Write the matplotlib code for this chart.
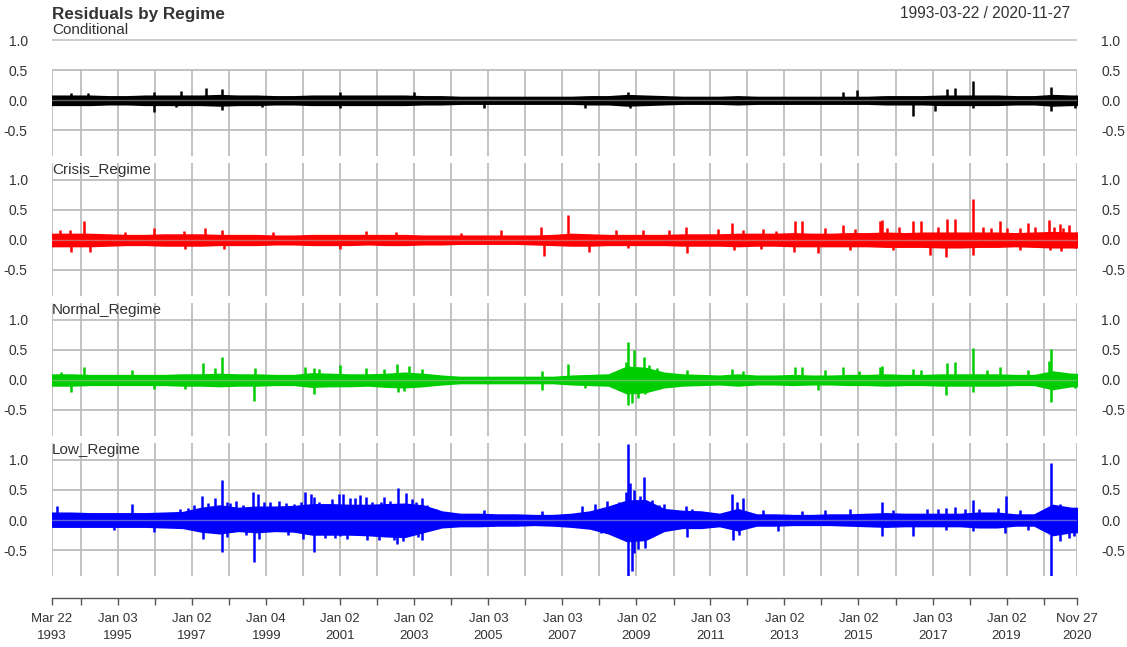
import numpy as np
import pandas as pd
import matplotlib
matplotlib.use("Agg")
import matplotlib.pyplot as plt

plt.rcParams['font.family'] = ['Liberation Sans', 'DejaVu Sans']

start = pd.Timestamp("1993-03-22")
end = pd.Timestamp("2020-11-27")

regimes = ["Conditional", "Crisis_Regime", "Normal_Regime", "Low_Regime"]
colors = ["#000000", "#FF0000", "#00CD00", "#0000FF"]

# half-year envelope of the residuals (Apr / Oct of each year, 1993..2020)
band_dates = pd.date_range("1993-04-01", periods=56, freq="6MS")

cond_hi = [.07, .07, .07, .06, .06, .07, .07, .07, .07, .08, .07, .07, .06, .06,
           .07, .07, .07, .07, .07, .07, .06, .06, .05, .05, .05, .05, .05, .05,
           .05, .06, .06, .08, .07, .06, .05, .05, .05, .06, .05, .05, .05, .05,
           .05, .05, .05, .06, .06, .06, .07, .07, .07, .07, .06, .06, .08, .07]
cond_lo = [-.08, -.08, -.08, -.07, -.07, -.08, -.08, -.08, -.08, -.09, -.08, -.08, -.07, -.07,
           -.08, -.08, -.08, -.08, -.08, -.08, -.07, -.07, -.06, -.06, -.06, -.06, -.06, -.06,
           -.06, -.07, -.07, -.09, -.08, -.07, -.06, -.06, -.06, -.07, -.06, -.06, -.06, -.06,
           -.06, -.06, -.06, -.07, -.07, -.07, -.08, -.08, -.08, -.08, -.07, -.07, -.09, -.08]

crisis_hi = [.10, .10, .10, .09, .08, .08, .09, .09, .09, .08, .08, .08, .07, .07,
             .08, .08, .08, .08, .08, .08, .07, .07, .07, .07, .07, .07, .07, .08,
             .10, .09, .08, .08, .08, .08, .09, .09, .09, .10, .10, .10, .11, .10,
             .10, .11, .11, .12, .11, .12, .12, .12, .12, .12, .11, .12, .13, .12]
crisis_lo = [-.10, -.10, -.10, -.09, -.08, -.08, -.09, -.09, -.09, -.08, -.08, -.08, -.07, -.07,
             -.08, -.08, -.08, -.07, -.08, -.08, -.07, -.07, -.06, -.06, -.06, -.06, -.07, -.08,
             -.09, -.09, -.08, -.08, -.08, -.08, -.09, -.09, -.09, -.10, -.09, -.09, -.10, -.10,
             -.10, -.10, -.10, -.11, -.11, -.11, -.12, -.12, -.11, -.11, -.10, -.11, -.12, -.12]

normal_hi = [.09, .09, .08, .08, .08, .08, .08, .09, .09, .10, .09, .09, .08, .08,
             .11, .10, .09, .09, .10, .12, .10, .07, .05, .05, .05, .05, .05, .05,
             .07, .08, .09, .22, .20, .12, .09, .08, .07, .09, .07, .07, .08, .07,
             .07, .08, .08, .09, .08, .08, .09, .09, .09, .09, .08, .08, .14, .10]
normal_lo = [-.09, -.09, -.08, -.08, -.08, -.08, -.08, -.09, -.09, -.10, -.09, -.09, -.08, -.08,
             -.11, -.10, -.10, -.09, -.11, -.12, -.10, -.07, -.05, -.05, -.05, -.05, -.05, -.05,
             -.07, -.08, -.09, -.22, -.20, -.12, -.09, -.08, -.07, -.09, -.07, -.07, -.08, -.07,
             -.07, -.08, -.08, -.09, -.08, -.08, -.09, -.09, -.09, -.09, -.08, -.08, -.15, -.10]

low_hi = [.12, .12, .11, .11, .11, .11, .12, .13, .20, .24, .20, .22, .22, .23,
          .26, .26, .25, .25, .26, .27, .24, .14, .10, .10, .09, .09, .08, .08,
          .10, .14, .22, .32, .33, .18, .15, .14, .10, .18, .09, .09, .08, .08,
          .09, .09, .10, .11, .10, .10, .10, .10, .12, .12, .09, .09, .25, .20]
low_lo = [-.11, -.11, -.11, -.11, -.11, -.11, -.12, -.13, -.19, -.22, -.18, -.20, -.18, -.19,
          -.24, -.24, -.24, -.25, -.27, -.28, -.20, -.12, -.10, -.10, -.09, -.09, -.08, -.09,
          -.11, -.14, -.22, -.35, -.33, -.18, -.13, -.13, -.10, -.17, -.09, -.09, -.08, -.08,
          -.08, -.09, -.10, -.11, -.10, -.10, -.10, -.10, -.12, -.12, -.09, -.09, -.25, -.20]

# largest single-day residuals
cond_spike_dates = ["1993-09-25", "1994-03-15", "1995-12-20", "1995-12-28", "1996-09-10",
                    "1996-08-01", "1997-05-15", "1997-10-27", "1997-10-28", "1998-11-20",
                    "2000-12-28", "2001-01-05", "2003-01-02", "2004-11-20", "2007-08-16",
                    "2008-10-10", "2008-11-05", "2014-08-01", "2014-12-15", "2016-06-24",
                    "2017-01-25", "2017-05-20", "2017-08-10", "2018-02-05", "2018-02-08",
                    "2020-03-16", "2020-03-20", "2020-11-10"]
cond_spike_vals = [.12, .12, .14, -.20, .15, -.12, .20, .18, -.16, -.12,
                   .13, -.14, .13, -.14, -.14, .14, -.13, .14, .16, -.27,
                   -.18, .18, .20, .32, -.13, .22, -.18, -.14]

crisis_spike_dates = ["1993-06-10", "1993-09-15", "1993-09-25", "1994-02-04", "1994-04-05",
                      "1995-03-10", "1995-12-20", "1996-10-15", "1996-10-25", "1997-05-10",
                      "1997-10-27", "1997-11-10", "2000-12-28", "2001-09-10", "2005-05-10",
                      "2006-06-10", "2006-07-10", "2007-02-27", "2007-09-20", "2008-06-15",
                      "2008-10-15", "2009-11-20", "2010-05-06", "2010-05-20", "2011-03-15",
                      "2011-08-08", "2011-08-20", "2011-11-20", "2013-04-15", "2013-06-20",
                      "2013-04-10", "2013-12-01", "2014-08-01", "2014-12-01", "2015-08-01",
                      "2015-08-24", "2016-06-24", "2016-09-10", "2016-12-10", "2017-05-17",
                      "2017-05-25", "2017-08-10", "2018-02-05", "2018-02-08", "2018-05-10",
                      "2018-10-25", "2019-05-10", "2019-08-05", "2020-02-27", "2020-03-10",
                      "2020-06-11", "2020-09-05", "2020-11-15", "2020-11-10",
                      "1999-03-10", "2002-07-10", "2004-04-10", "2009-03-10", "2012-06-01",
                      "2012-10-10", "2014-02-01", "2015-10-10", "2016-02-10", "2017-03-01",
                      "2018-08-01", "2019-01-05", "2019-10-10", "2020-04-10", "2020-07-10",
                      "2012-05-15", "2014-10-15", "2015-12-10", "2019-05-15", "2020-06-20"]
crisis_spike_vals = [.16, .17, -.20, .31, -.20, .13, .20, .15, -.15, .20,
                     .17, -.15, -.15, .15, .17, .22, -.26, .42, -.20, .17,
                     -.14, .17, .21, -.21, .19, .28, -.17, .17, .32, .32,
                     -.20, -.22, .25, .18, .31, .34, .32, .31, -.25, -.29,
                     .35, .35, .69, -.25, .21, .32, .20, .29, .33, -.17,
                     .27, .25, .14, -.14,
                     .13, .14, .12, .16, .18,
                     .15, .20, .20, .22, .22,
                     .20, .20, .22, .22, .20,
                     -.15, -.16, -.17, -.16, -.18]

normal_spike_dates = ["1993-06-20", "1993-09-25", "1994-02-04", "1995-05-20", "1995-12-20",
                      "1996-10-25", "1997-04-15", "1997-08-15", "1997-10-27", "1998-08-31",
                      "1998-09-10", "2000-01-20", "2000-04-14", "2000-04-20", "2000-12-28",
                      "2002-07-20", "2002-07-25", "2002-11-10", "2006-06-15", "2006-06-20",
                      "2007-02-27", "2007-08-16", "2008-10-10", "2008-10-15", "2008-11-20",
                      "2008-12-10", "2009-03-20", "2009-03-25", "2009-07-20", "2010-05-20",
                      "2011-08-08", "2011-11-20", "2013-04-15", "2013-06-20", "2013-12-01",
                      "2014-02-01", "2014-08-01", "2015-01-05", "2015-08-01", "2015-08-24",
                      "2016-06-24", "2016-09-10", "2017-05-17", "2017-05-20", "2017-08-10",
                      "2018-02-05", "2018-02-08", "2018-06-20", "2018-10-25", "2019-08-05",
                      "2020-02-27", "2020-03-16", "2020-03-18", "2020-11-10",
                      "2000-06-10", "2001-09-17", "2002-03-10", "2002-09-20", "2003-03-20",
                      "2008-09-20", "2009-01-20", "2009-05-10"]
normal_spike_vals = [.14, -.20, .21, .17, -.15, -.15, .29, .20, .39, -.35,
                     .20, .21, -.24, .20, .25, .27, -.20, .24, -.17, .15,
                     .27, -.14, .63, -.42, -.39, .50, .38, -.24, .20, .17,
                     .19, .15, .21, .22, -.17, .17, .21, .15, .21, .24,
                     .19, .17, -.25, .29, .30, .53, -.20, .17, .21, .17,
                     .31, .52, -.37, -.14,
                     .18, .20, .18, -.18, .18,
                     .30, -.30, .25]

low_spike_dates = ["1993-05-10", "1994-11-20", "1995-05-20", "1995-12-20", "1996-09-01",
                   "1996-11-20", "1997-04-10", "1997-04-15", "1997-08-15", "1997-10-27",
                   "1997-10-28", "1998-03-10", "1998-08-31", "1998-08-25", "1998-10-10",
                   "1998-10-20", "1999-05-10", "1999-10-01", "2000-01-05", "2000-01-20",
                   "2000-03-20", "2000-04-14", "2000-04-15", "2000-12-20", "2001-01-05",
                   "2001-04-05", "2001-02-01", "2001-06-01", "2001-07-15", "2002-01-20",
                   "2002-03-10", "2002-07-24", "2002-07-20", "2002-10-10", "2003-03-20",
                   "2003-03-25", "2004-11-20", "2006-06-15", "2007-07-20", "2007-11-20",
                   "2008-01-22", "2008-03-15", "2008-09-20", "2008-10-13", "2008-10-28",
                   "2008-10-15", "2008-11-20", "2009-01-20", "2009-03-20", "2009-03-25",
                   "2009-06-01", "2009-10-01", "2010-05-06", "2010-05-20", "2011-08-08",
                   "2011-08-09", "2011-11-20", "2012-06-01", "2012-11-01", "2013-06-20",
                   "2014-02-01", "2014-10-15", "2015-08-24", "2015-08-25", "2015-12-10",
                   "2016-06-24", "2016-11-10", "2017-03-01", "2017-05-17", "2017-08-10",
                   "2017-11-20", "2017-05-18", "2018-02-05", "2018-02-06", "2018-04-10",
                   "2018-10-10", "2018-12-24", "2018-12-20", "2019-05-10", "2019-08-05",
                   "2020-03-16", "2020-03-12", "2020-06-11", "2020-06-15", "2020-09-05",
                   "2020-09-08", "2020-10-28", "2020-11-02",
                   "1997-01-20", "1997-06-10", "1997-12-10", "1997-12-15", "1998-01-10",
                   "1998-05-15", "1998-06-20", "1998-12-10", "1999-02-10", "1999-07-20",
                   "1999-08-10", "1999-12-10", "2000-06-10", "2000-08-10", "2000-10-15",
                   "2000-11-10", "2001-03-15", "2001-09-17", "2001-09-20", "2001-11-10",
                   "2002-02-05", "2002-05-10", "2002-06-20", "2002-09-10", "2002-12-10",
                   "2003-01-20", "2003-02-10", "2003-05-10", "2003-08-10", "2008-07-15",
                   "2008-08-20", "2008-12-05", "2008-12-10", "2009-02-10", "2009-05-10",
                   "2009-08-10", "2010-07-01", "2011-09-20", "2011-10-10"]
low_spike_vals = [.23, -.17, .26, -.20, .18, .20, .40, -.32, .37, .67,
                  -.54, .32, -.70, .46, .43, -.32, .32, .26, -.32, .47,
                  .43, .39, -.53, .43, -.27, .36, .43, .37, .41, -.34,
                  .39, .53, -.40, .45, .37, -.34, .17, .15, .23, .26,
                  -.21, .32, .46, 1.27, .62, -.95, -.85, -.49, .72, -.46,
                  .34, .26, .23, -.28, .43, -.33, .36, .17, -.18, .15,
                  .17, .18, .30, -.26, .17, -.27, .18, .18, .20, .22,
                  .18, -.16, .33, -.18, .18, .20, .40, -.21, .16, -.16,
                  .95, -.95, .26, -.35, .20, -.30, .18, -.27,
                  .25, .28, .30, -.28, .28,
                  .25, -.25, .30, .30, .28,
                  -.25, .30, .30, -.30, .35,
                  -.30, -.32, .38, -.33, .30,
                  .30, .32, -.33, -.35, .35,
                  .30, -.28, .25, .18, .30,
                  -.30, .50, -.55, .40, -.30,
                  .25, .18, .30, -.25]

bands = [(cond_hi, cond_lo), (crisis_hi, crisis_lo), (normal_hi, normal_lo), (low_hi, low_lo)]
spikes = [(cond_spike_dates, cond_spike_vals), (crisis_spike_dates, crisis_spike_vals),
          (normal_spike_dates, normal_spike_vals), (low_spike_dates, low_spike_vals)]

# first trading day of each year, plus the ends of the sample
year_marks = pd.to_datetime(["1994-01-03", "1995-01-03", "1996-01-02", "1997-01-02", "1998-01-02",
                             "1999-01-04", "2000-01-03", "2001-01-02", "2002-01-02", "2003-01-02",
                             "2004-01-02", "2005-01-03", "2006-01-03", "2007-01-03", "2008-01-02",
                             "2009-01-02", "2010-01-04", "2011-01-03", "2012-01-03", "2013-01-02",
                             "2014-01-02", "2015-01-02", "2016-01-04", "2017-01-03", "2018-01-02",
                             "2019-01-02", "2020-01-02"])
grid_dates = [start] + list(year_marks) + [end]

W, H = 1127, 647
ylo, yhi = -0.93, 1.28
gridc = "#BDBDBD"
textc = "#333333"

fig = plt.figure(figsize=(W / 100, H / 100), dpi=100)

left = 52 / W
width = 1025 / W
panel_h = (yhi - ylo) * 60

for k, name in enumerate(regimes):
    zero_px = 100 + 140 * k
    top_px = zero_px - yhi * 60
    ax = fig.add_axes([left, 1 - (top_px + panel_h) / H, width, panel_h / H])
    ax.set_xlim(start, end)
    ax.set_ylim(ylo, yhi)

    # vertical grid (first panel starts below the header)
    vtop = (0.5 - ylo) / (yhi - ylo) if k == 0 else 1.0
    for d in grid_dates:
        ax.axvline(d, ymin=0, ymax=vtop, color=gridc, lw=1.3, zorder=1)
    for yv in [1.0, 0.5, 0.0, -0.5]:
        ax.axhline(yv, color=gridc if yv != 1.0 or k else "#C8C8C8", lw=1.3, zorder=1)

    hi, lo = bands[k]
    bx = [start] + list(band_dates) + [end]
    bhi = [hi[0]] + hi + [hi[-1]]
    blo = [lo[0]] + lo + [lo[-1]]
    ax.fill_between(bx, blo, bhi, color=colors[k], lw=1.2, edgecolor=colors[k], zorder=2)

    sd, sv = spikes[k]
    ax.vlines(pd.to_datetime(sd), 0, sv, color=colors[k], lw=1.8, zorder=2)

    ax.axhline(0.0, color=gridc, lw=1.0, alpha=0.5, zorder=3)

    ax.text(0, 1.0 + 10 / 60, name, transform=ax.get_yaxis_transform(),
            ha="left", va="center", fontsize=11, color=textc)

    ax.set_yticks([-0.5, 0.0, 0.5, 1.0])
    ax.set_yticklabels(["-0.5", "0.0", "0.5", "1.0"])
    ax.tick_params(axis="y", left=False, right=False, labelleft=True, labelright=True,
                   labelsize=10, labelcolor=textc, pad=14)
    ax.set_xticks([])
    for s in ax.spines.values():
        s.set_visible(False)

# shared date axis at the bottom
axb = fig.add_axes([left, 1 - 598 / H, width, 0.0001])
axb.set_xlim(start, end)
axb.set_yticks([])
for s in ["top", "left", "right"]:
    axb.spines[s].set_visible(False)
axb.spines["bottom"].set_color("#555555")
axb.spines["bottom"].set_linewidth(1.0)
label_dates = [start] + list(year_marks[1::2]) + [end]
axb.set_xticks(grid_dates)
axb.set_xticklabels([d.strftime("%b %d\n%Y") if d in label_dates else "" for d in grid_dates],
                    fontsize=9.5, color=textc, linespacing=1.5)
axb.tick_params(axis="x", length=5, width=1.0, color="#555555", pad=6)

fig.text(52 / W, 1 - 14 / H, "Residuals by Regime", ha="left", va="center",
         fontsize=12.3, fontweight="bold", color=textc)
fig.text(1070 / W, 1 - 14 / H, start.strftime("%Y-%m-%d") + " / " + end.strftime("%Y-%m-%d"),
         ha="right", va="center", fontsize=11.2, color=textc)

fig.savefig("out.png", dpi=100)
